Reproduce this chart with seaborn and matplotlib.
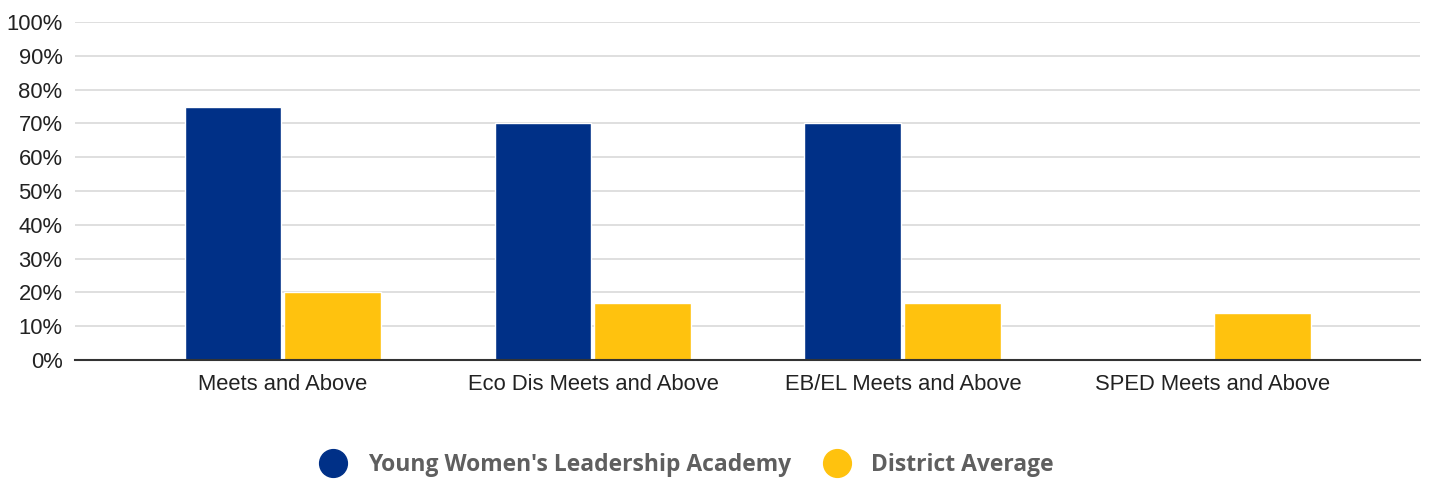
import pandas as pd
import matplotlib.pyplot as plt
from matplotlib.lines import Line2D
from matplotlib.ticker import PercentFormatter
import seaborn as sns

categories = ["Meets and Above", "Eco Dis Meets and Above",
              "EB/EL Meets and Above", "SPED Meets and Above"]
school = [75, 70, 70, None]
district = [20, 17, 17, 14]
series_names = ["Young Women's Leadership Academy", "District Average"]
colors = ["#003087", "#FFC20E"]

df = pd.DataFrame({
    "category": categories * 2,
    "series": [series_names[0]] * 4 + [series_names[1]] * 4,
    "value": school + district,
})

sns.set_theme(style="white")
plt.rcParams["font.family"] = ["Liberation Sans", "DejaVu Sans"]

fig = plt.figure(figsize=(14.3, 4.8), dpi=100)
ax = fig.add_axes([75 / 1430, 1 - 360 / 480, 1345 / 1430, 338 / 480])

sns.barplot(data=df, x="category", y="value", hue="series", order=categories,
            hue_order=series_names, palette=colors, width=0.645, gap=0.03,
            saturation=1, ax=ax, legend=False)

ax.set_ylim(0, 100)
ax.set_xlim(-0.671, 3.668)
ax.set_yticks(range(0, 101, 10))
ax.yaxis.set_major_formatter(PercentFormatter(decimals=0))
ax.grid(axis="y", color="#d9d9d9", linewidth=1.2)
ax.set_axisbelow(True)
for s in ["top", "right", "left"]:
    ax.spines[s].set_visible(False)
ax.spines["bottom"].set_color("#333333")
ax.spines["bottom"].set_linewidth(1.5)
ax.tick_params(axis="both", length=0, labelsize=15.8, colors="#222222")
ax.tick_params(axis="x", pad=10)
ax.tick_params(axis="y", pad=9)
ax.set_xlabel("")
ax.set_ylabel("")

handles = [Line2D([], [], marker="o", linestyle="", markersize=20,
                  markerfacecolor=c, markeredgecolor=c) for c in colors]
fig.legend(handles, series_names, loc="center", bbox_to_anchor=(0.477, 0.031),
           ncol=2, frameon=False, handletextpad=0.5, columnspacing=1.0,
           prop={"family": ["Open Sans", "DejaVu Sans"], "weight": "bold", "size": 16.5},
           labelcolor="#5f5f5f")

fig.savefig("out.png", dpi=100)
